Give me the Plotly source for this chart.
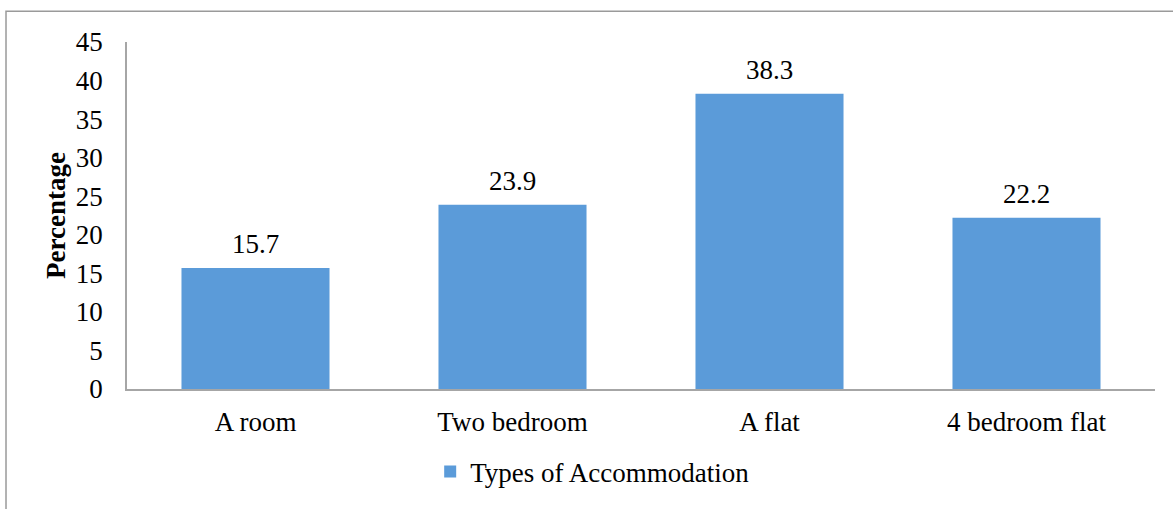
import plotly.graph_objects as go

# Share of respondents by type of accommodation
categories = ["A room", "Two bedroom", "A flat", "4 bedroom flat"]
percentages = [15.7, 23.9, 38.3, 22.2]
series_name = "Types of Accommodation"
y_ticks = [0, 5, 10, 15, 20, 25, 30, 35, 40, 45]

FONT = "Liberation Serif, Times New Roman, serif"
BAR_COLOR = "#5b9bd9"
AXIS_COLOR = "#a6a6a6"

fig = go.Figure()
fig.add_trace(go.Bar(
    x=categories,
    y=percentages,
    name=series_name,
    marker=dict(color=BAR_COLOR, line=dict(width=0)),
    showlegend=True,
))

# value labels above each bar
for cat, val in zip(categories, percentages):
    fig.add_annotation(
        x=cat, y=val, text=f"{val}", showarrow=False,
        yanchor="middle", yshift=24,
        font=dict(family=FONT, size=27, color="black"),
    )

# outer chart frame
fig.add_shape(
    type="rect", xref="paper", yref="paper",
    x0=-0.1177, x1=1.03, y0=-0.36, y1=1.0883,
    line=dict(color="#9a9a9a", width=1.5), fillcolor="rgba(0,0,0,0)",
    layer="below",
)

fig.update_layout(
    width=1173, height=509,
    margin=dict(l=127, r=18, t=42, b=116),
    paper_bgcolor="white", plot_bgcolor="white",
    bargap=0.424,
    font=dict(family=FONT, size=27, color="black"),
    showlegend=True,
    legend=dict(
        orientation="h", x=0.453, xanchor="center", y=-0.239, yanchor="middle",
        font=dict(family=FONT, size=27, color="black"),
        itemwidth=30,
    ),
    xaxis=dict(
        showline=True, linecolor=AXIS_COLOR, linewidth=1.5,
        ticks="", showgrid=False, zeroline=False,
        tickfont=dict(family=FONT, size=27, color="black"),
        ticklabelstandoff=8, automargin=False,
    ),
    yaxis=dict(
        range=[0, 45], tickvals=y_ticks,
        showline=True, linecolor=AXIS_COLOR, linewidth=1.5,
        ticks="", showgrid=False, zeroline=False,
        tickfont=dict(family=FONT, size=27, color="black"),
        ticklabelstandoff=17, automargin=False,
        title=dict(text="<b>Percentage</b>", standoff=2,
                   font=dict(family=FONT, size=27, color="black")),
    ),
)

fig.write_html("out.html")
